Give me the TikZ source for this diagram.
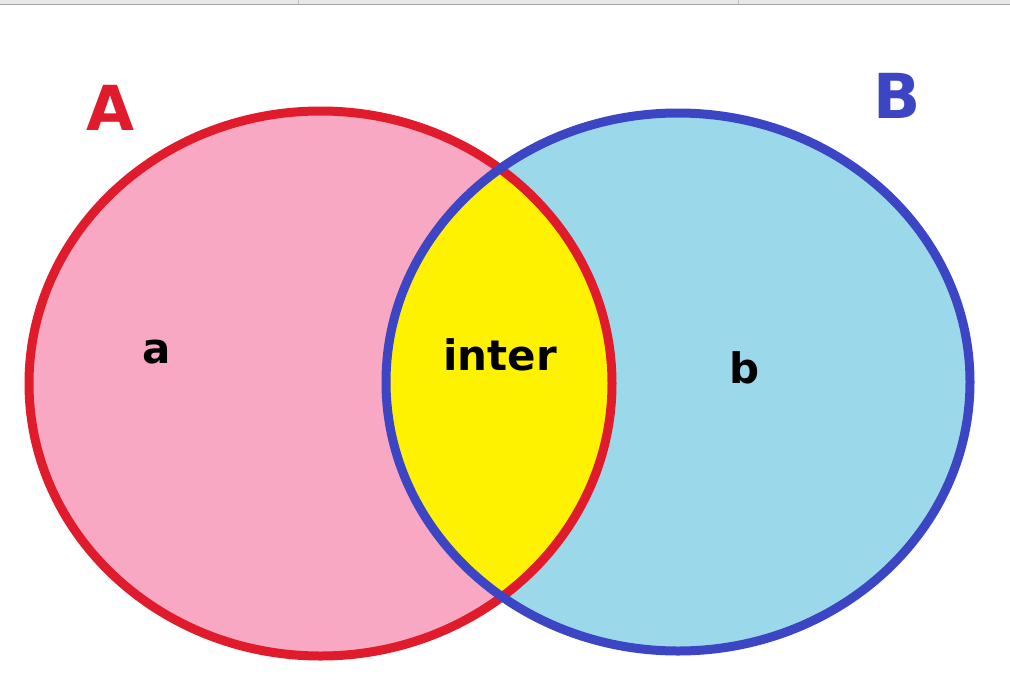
\documentclass[tikz,border=0pt]{standalone}
\usepackage{fontspec}
\newfontfamily\labelfont{DejaVu Sans}[BoldFont={DejaVu Sans Bold}]
\definecolor{setpink}{HTML}{F9A8C3}
\definecolor{setblue}{HTML}{9BD8EA}
\definecolor{setyellow}{HTML}{FFF200}
\definecolor{setred}{HTML}{E01B2C}
\definecolor{setnavy}{HTML}{3C45C4}
\definecolor{barline}{HTML}{A6A6A6}
\definecolor{barfill}{HTML}{E8E8E8}
\tikzset{
  setlabel/.style={font=\labelfont\bfseries\fontsize{62}{62}\selectfont, inner sep=0pt},
  eltlabel/.style={font=\labelfont\bfseries\fontsize{42}{42}\selectfont, inner sep=0pt, text=black},
  rim/.style={line width=9pt}
}
\begin{document}
\begin{tikzpicture}[x=1pt,y=-1pt]
\useasboundingbox (0,0) rectangle (1010,686);
\fill[white] (0,0) rectangle (1010,686);
% top strip
\fill[barfill] (0,0) rectangle (1010,4);
\draw[barline, line width=1.2pt] (0,4.5) -- (1010,4.5);
\draw[barline!70, line width=0.8pt] (298,0) -- (298,4) (738,0) -- (738,4);
% sets
\coordinate (cA) at (320.5,383.5);
\coordinate (cB) at (678,382);
\fill[setpink] (cA) ellipse [x radius=291.5, y radius=272.5];
\fill[setblue] (cB) ellipse [x radius=292, y radius=269];
\begin{scope}
  \clip (cA) ellipse [x radius=291.5, y radius=272.5];
  \fill[setyellow] (cB) ellipse [x radius=292, y radius=269];
\end{scope}
\draw[rim, setred] (cA) ellipse [x radius=291.5, y radius=272.5];
\draw[rim, setnavy] (cB) ellipse [x radius=292, y radius=269];
% labels
\node[setlabel, text=setred] (labA) at (110,108) {A};
\node[setlabel, text=setnavy] (labB) at (897,96) {B};
\node[eltlabel] (la) at (157,352) {a};
\node[eltlabel] (linter) at (500,355) {inter};
\node[eltlabel] (lb) at (745,368) {b};
\end{tikzpicture}
\end{document}
